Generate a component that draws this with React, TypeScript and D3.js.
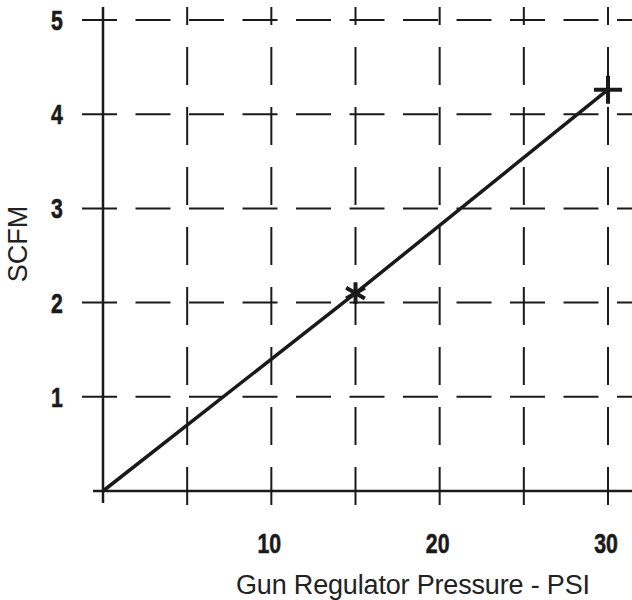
import React, { useEffect, useRef } from "react";
import * as d3 from "d3";

// pressure (PSI) vs flow (SCFM)
const pressure = [0, 15, 30];
const scfm = [0, 2.1, 4.26];
const xTicks = [10, 20, 30];
const xGrid = [5, 10, 15, 20, 25, 30];
const yTicks = [1, 2, 3, 4, 5];

const W = 632;
const H = 600;

const App = () => {
  const svgRef = useRef<SVGSVGElement>(null);

  useEffect(() => {
    const svg = d3.select(svgRef.current);
    svg.selectAll("*").remove();

    const x = d3.scaleLinear().domain([0, 30]).range([103, 608]);
    const y = d3.scaleLinear().domain([0, 5]).range([491, 20]);

    const ink = "#1a1a1a";
    const top = 7;
    const bottom = 505;
    const tickFont = "'Liberation Sans', Arial, sans-serif";

    // horizontal dashed grid lines
    svg
      .append("g")
      .selectAll("line")
      .data(yTicks)
      .enter()
      .append("line")
      .attr("x1", 82)
      .attr("x2", W)
      .attr("y1", (d) => y(d))
      .attr("y2", (d) => y(d))
      .attr("stroke", ink)
      .attr("stroke-width", 2)
      .attr("stroke-dasharray", "35,18.5");

    // vertical dashed grid lines, dashes counted from the bottom
    svg
      .append("g")
      .selectAll("line")
      .data(xGrid)
      .enter()
      .append("line")
      .attr("x1", (d) => x(d))
      .attr("x2", (d) => x(d))
      .attr("y1", bottom)
      .attr("y2", top)
      .attr("stroke", ink)
      .attr("stroke-width", 2)
      .attr("stroke-dasharray", "38,22");

    // axes
    svg
      .append("line")
      .attr("x1", x(0))
      .attr("x2", x(0))
      .attr("y1", top)
      .attr("y2", 503)
      .attr("stroke", ink)
      .attr("stroke-width", 2.5);
    svg
      .append("line")
      .attr("x1", 93)
      .attr("x2", W)
      .attr("y1", y(0))
      .attr("y2", y(0))
      .attr("stroke", ink)
      .attr("stroke-width", 2.5);

    // tick labels (bold, squeezed narrow)
    svg
      .append("g")
      .selectAll("text")
      .data(xTicks)
      .enter()
      .append("text")
      .attr("transform", (d) => `translate(${x(d) - 2},553) scale(0.76,1)`)
      .attr("text-anchor", "middle")
      .attr("font-family", tickFont)
      .attr("font-weight", "bold")
      .attr("font-size", 28)
      .attr("fill", ink)
      .attr("stroke", ink)
      .attr("stroke-width", 0.6)
      .text((d) => d);

    svg
      .append("g")
      .selectAll("text")
      .data(yTicks)
      .enter()
      .append("text")
      .attr("transform", (d) => `translate(57,${y(d) + 10}) scale(0.76,1)`)
      .attr("text-anchor", "middle")
      .attr("font-family", tickFont)
      .attr("font-weight", "bold")
      .attr("font-size", 28)
      .attr("fill", ink)
      .attr("stroke", ink)
      .attr("stroke-width", 0.6)
      .text((d) => d);

    // axis titles
    svg
      .append("text")
      .attr("x", 236)
      .attr("y", 594)
      .attr("font-family", "'Liberation Sans', Arial, sans-serif")
      .attr("font-size", 27)
      .attr("fill", "#222")
      .attr("textLength", 354)
      .text("Gun Regulator Pressure - PSI");

    svg
      .append("text")
      .attr("transform", "translate(27,244) rotate(-90)")
      .attr("text-anchor", "middle")
      .attr("font-family", "'Liberation Sans', Arial, sans-serif")
      .attr("font-size", 27)
      .attr("fill", "#222")
      .text("SCFM");

    // data line
    const pts = pressure.map((p, i) => [p, scfm[i]] as [number, number]);
    const line = d3
      .line<[number, number]>()
      .x((d) => x(d[0]))
      .y((d) => y(d[1]));

    svg
      .append("path")
      .datum(pts)
      .attr("d", line)
      .attr("fill", "none")
      .attr("stroke", ink)
      .attr("stroke-width", 3.5);

    // point markers
    svg
      .append("path")
      .attr("transform", `translate(${x(pressure[1])},${y(scfm[1])})`)
      .attr("d", d3.symbol(d3.symbolAsterisk, 330)())
      .attr("fill", "none")
      .attr("stroke", ink)
      .attr("stroke-width", 4);

    svg
      .append("path")
      .attr("transform", `translate(${x(pressure[2])},${y(scfm[2])})`)
      .attr("d", d3.symbol(d3.symbolPlus, 260)())
      .attr("fill", "none")
      .attr("stroke", ink)
      .attr("stroke-width", 4);
  }, []);

  return (
    <svg
      ref={svgRef}
      width={W}
      height={H}
      style={{ position: "absolute", left: 0, top: 0, background: "#fff" }}
    />
  );
};

export default App;
